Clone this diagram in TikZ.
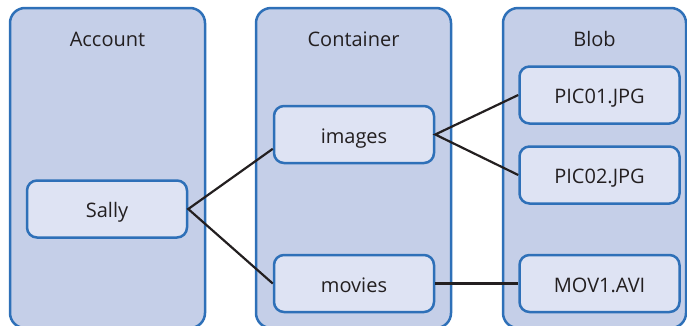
\documentclass[tikz,border=0pt]{standalone}
\usepackage{fontspec}
\setmainfont{Open Sans}
\definecolor{colfill}{RGB}{197,207,232}
\definecolor{boxfill}{RGB}{222,227,243}
\definecolor{edgeblue}{RGB}{46,112,184}
\definecolor{ink}{RGB}{35,31,32}

\begin{document}
\begin{tikzpicture}[x=1pt, y=-1pt, every node/.style={font=\fontsize{20}{22}\selectfont, text=ink},
	column/.style={draw=edgeblue, fill=colfill, line width=2.5pt, rounded corners=15pt, inner sep=0pt},
	item/.style={draw=edgeblue, fill=boxfill, line width=2.5pt, rounded corners=10pt, minimum width=160pt, minimum height=57pt, inner sep=0pt, text height=20pt, text depth=3pt},
	link/.style={draw=ink, line width=2.2pt}]
	\useasboundingbox (0,0) rectangle (687,325);
	\foreach \x/\w/\t/\n in {107.5/195/Account/account, 353.5/195/Container/container, 594.5/183/Blob/blob} {
		\node[column, minimum width=\w pt, minimum height=320pt] (\n) at (\x,168) {};
		\node (\n-title) at (\x,39) {\t};
	}
	\node[item] (sally) at (107,209) {Sally};
	\node[item] (images) at (354,134.5) {images};
	\node[item] (movies) at (354,283.5) {movies};
	\node[item] (pic1) at (599.5,95) {PIC01.JPG};
	\node[item] (pic2) at (599.5,175) {PIC02.JPG};
	\node[item] (mov1) at (599.5,283.5) {MOV1.AVI};
	
	\draw[link] (images.190) -- (sally.east) -- (movies.west);
	\draw[link] (pic1.west) -- (images.east) -- (pic2.west);
	\draw[link] (movies.east) -- (mov1.west);
\end{tikzpicture}
\end{document}
